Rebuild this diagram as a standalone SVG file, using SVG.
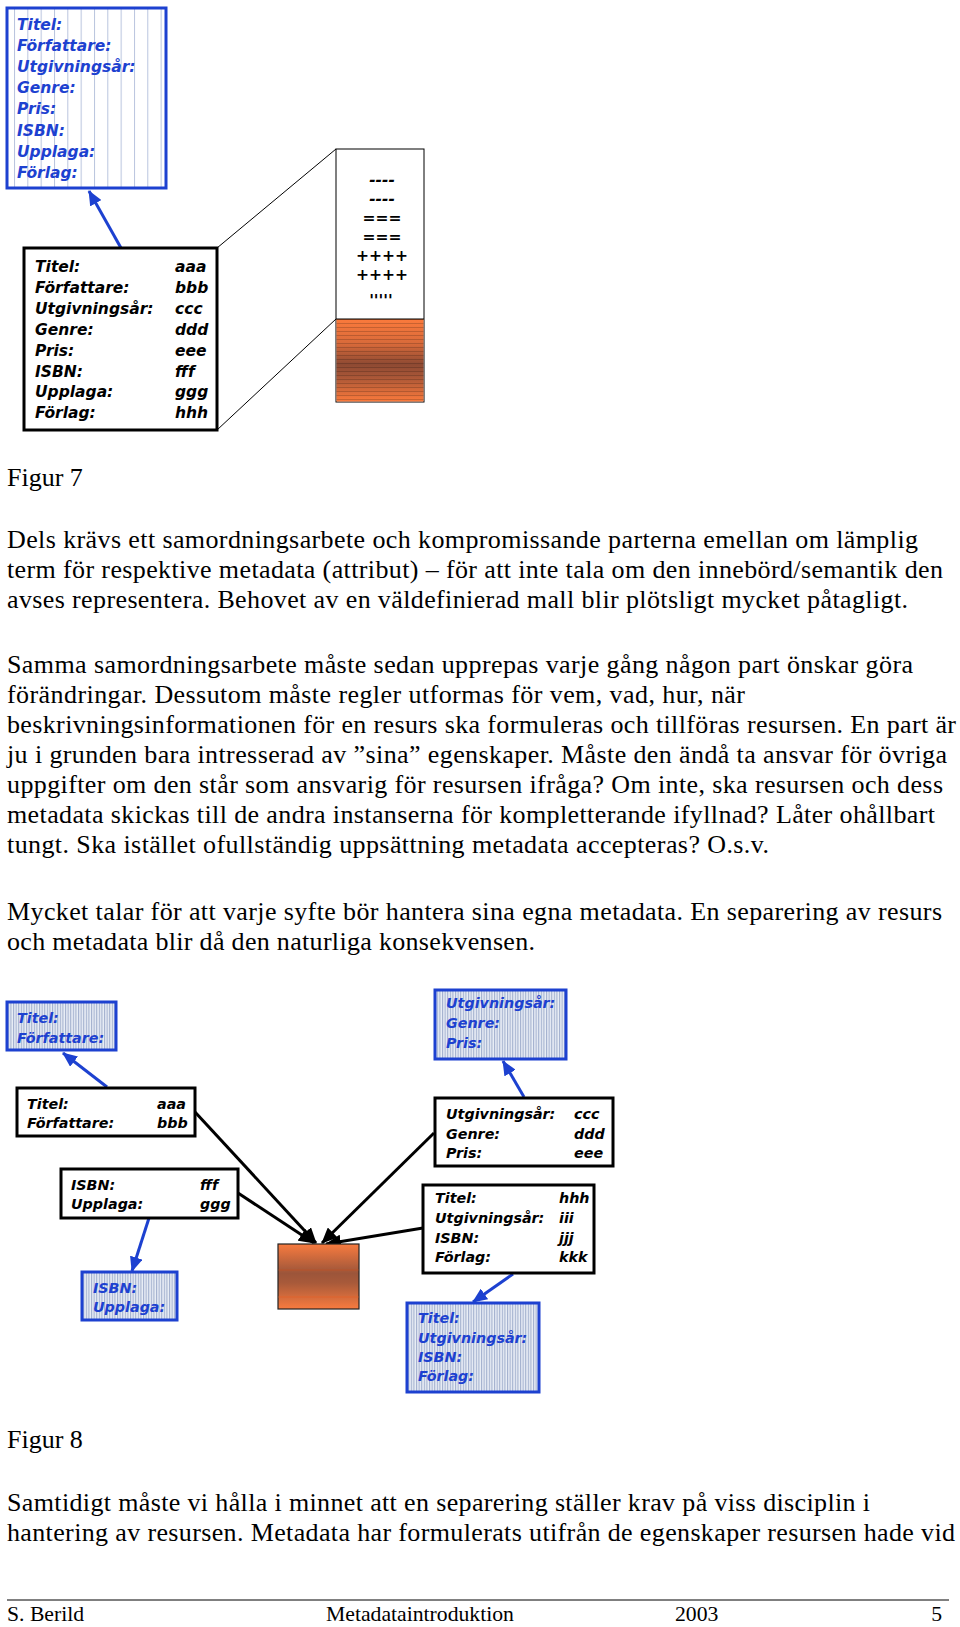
<svg xmlns="http://www.w3.org/2000/svg" width="960" height="1627" viewBox="0 0 960 1627">
<style>
.body{font-family:"Liberation Serif","Times New Roman",serif;font-size:26px;fill:#000}
.foot{font-family:"Liberation Serif","Times New Roman",serif;font-size:21.7px;fill:#000}
.d7{font-family:"DejaVu Sans",Verdana,sans-serif;font-weight:bold;font-style:italic;font-size:15.5px;fill:#000}
.d8{font-family:"DejaVu Sans",Verdana,sans-serif;font-weight:bold;font-style:italic;font-size:14.3px;fill:#000}
.blue{fill:#1d41d0}
.bbox{fill:#fff;stroke:#000;stroke-width:3}
.bluebox{stroke:#1d41d0;stroke-width:3}
.barrow{stroke:#1d41d0;stroke-width:3;fill:none;marker-end:url(#mb)}
.karrow{stroke:#000;stroke-width:3;fill:none;marker-end:url(#mk)}
.thin{stroke:#000;stroke-width:1;fill:none}
</style>
<defs>
<pattern id="vl" x="14" y="0" width="13.33" height="10" patternUnits="userSpaceOnUse">
<rect width="13.33" height="10" fill="#fff"/><rect x="0" width="1" height="10" fill="#b9c4de"/>
</pattern>
<pattern id="hatch" x="0" y="0" width="2.6" height="4" patternUnits="userSpaceOnUse">
<rect width="2.6" height="4" fill="#eaeef6"/><rect width="1.1" height="4" fill="#a2b0ce"/>
</pattern>
<linearGradient id="og7" x1="0" y1="0" x2="0" y2="1">
<stop offset="0" stop-color="#fb7a3c"/><stop offset="0.3" stop-color="#d86a3a"/><stop offset="0.55" stop-color="#8e4a33"/><stop offset="0.7" stop-color="#a85637"/><stop offset="1" stop-color="#fb7a3c"/>
</linearGradient>
<pattern id="hl" x="0" y="319" width="10" height="4" patternUnits="userSpaceOnUse">
<rect y="0" width="10" height="1" fill="#000" fill-opacity="0.18"/>
</pattern>
<linearGradient id="og8" x1="0" y1="0" x2="0" y2="1">
<stop offset="0" stop-color="#f87b3f"/><stop offset="0.45" stop-color="#9c553a"/><stop offset="0.6" stop-color="#a85a3a"/><stop offset="1" stop-color="#f87b3f"/>
</linearGradient>
<marker id="mb" markerWidth="15" markerHeight="13" refX="14" refY="6.5" orient="auto" markerUnits="userSpaceOnUse">
<path d="M0,0 L15,6.5 L0,13 z" fill="#1d41d0"/>
</marker>
<marker id="mk" markerWidth="16" markerHeight="14" refX="15" refY="7" orient="auto" markerUnits="userSpaceOnUse">
<path d="M0,0 L16,7 L0,14 z" fill="#000"/>
</marker>
</defs>

<g id="connectors">
<line class="barrow" x1="121" y1="248" x2="89" y2="191"/>
<line class="thin" x1="217" y1="248" x2="336" y2="149"/>
<line class="thin" x1="217" y1="430" x2="336" y2="319"/>
<line class="barrow" x1="107" y1="1087" x2="63" y2="1053"/>
<line class="barrow" x1="149" y1="1218" x2="132" y2="1271"/>
<line class="barrow" x1="524" y1="1097" x2="503" y2="1061"/>
<line class="barrow" x1="513" y1="1274" x2="473" y2="1302"/>
<line class="karrow" x1="195" y1="1112" x2="316" y2="1243"/>
<line class="karrow" x1="238" y1="1193" x2="314" y2="1243"/>
<line class="karrow" x1="434" y1="1133" x2="322" y2="1243"/>
<line class="karrow" x1="423" y1="1228" x2="326" y2="1244"/>
</g>

<g id="f7-schema">
<rect class="bluebox" x="7" y="8" width="159" height="180" fill="url(#vl)"/>
<text class="d7 blue" x="17" y="30">Titel:</text>
<text class="d7 blue" x="17" y="51.1">Författare:</text>
<text class="d7 blue" x="17" y="72.2">Utgivningsår:</text>
<text class="d7 blue" x="17" y="93.3">Genre:</text>
<text class="d7 blue" x="17" y="114.4">Pris:</text>
<text class="d7 blue" x="17" y="135.5">ISBN:</text>
<text class="d7 blue" x="17" y="156.6">Upplaga:</text>
<text class="d7 blue" x="17" y="177.7">Förlag:</text>
</g>

<g id="f7-record">
<rect class="bbox" x="24" y="248" width="193" height="182"/>
<text class="d7" x="35" y="272">Titel:</text><text class="d7" x="175" y="272">aaa</text>
<text class="d7" x="35" y="292.9">Författare:</text><text class="d7" x="175" y="292.9">bbb</text>
<text class="d7" x="35" y="313.8">Utgivningsår:</text><text class="d7" x="175" y="313.8">ccc</text>
<text class="d7" x="35" y="334.7">Genre:</text><text class="d7" x="175" y="334.7">ddd</text>
<text class="d7" x="35" y="355.6">Pris:</text><text class="d7" x="175" y="355.6">eee</text>
<text class="d7" x="35" y="376.5">ISBN:</text><text class="d7" x="175" y="376.5">fff</text>
<text class="d7" x="35" y="397.4">Upplaga:</text><text class="d7" x="175" y="397.4">ggg</text>
<text class="d7" x="35" y="418.3">Förlag:</text><text class="d7" x="175" y="418.3">hhh</text>
</g>

<g id="f7-resource">
<rect x="336" y="149" width="88" height="253" fill="#fff" stroke="#000" stroke-width="1"/>
<rect x="336.5" y="319" width="87" height="82.5" fill="url(#og7)"/>
<rect x="336.5" y="319" width="87" height="82.5" fill="url(#hl)"/>
<line class="thin" x1="336" y1="319" x2="424" y2="319"/>
<text class="d7" x="382" y="184.5" text-anchor="middle">----</text>
<text class="d7" x="382" y="203.5" text-anchor="middle">----</text>
<text class="d7" x="382" y="223" text-anchor="middle">===</text>
<text class="d7" x="382" y="242" text-anchor="middle">===</text>
<text class="d7" x="382" y="261" text-anchor="middle">++++</text>
<text class="d7" x="382" y="279.5" text-anchor="middle">++++</text>
<text class="d7" x="381" y="306" text-anchor="middle">'''''</text>
</g>

<g id="text1">
<text class="body" x="7" y="486">Figur 7</text>
<text class="body" x="7" y="548" textLength="911" lengthAdjust="spacing">Dels krävs ett samordningsarbete och kompromissande parterna emellan om lämplig</text>
<text class="body" x="7" y="578" textLength="936" lengthAdjust="spacing">term för respektive metadata (attribut) – för att inte tala om den innebörd/semantik den</text>
<text class="body" x="7" y="608" textLength="901" lengthAdjust="spacing">avses representera. Behovet av en väldefinierad mall blir plötsligt mycket påtagligt.</text>
<text class="body" x="7" y="673" textLength="906" lengthAdjust="spacing">Samma samordningsarbete måste sedan upprepas varje gång någon part önskar göra</text>
<text class="body" x="7" y="703" textLength="738" lengthAdjust="spacing">förändringar. Dessutom måste regler utformas för vem, vad, hur, när</text>
<text class="body" x="7" y="733" textLength="949" lengthAdjust="spacing">beskrivningsinformationen för en resurs ska formuleras och tillföras resursen. En part är</text>
<text class="body" x="7" y="763" textLength="940" lengthAdjust="spacing">ju i grunden bara intresserad av ”sina” egenskaper. Måste den ändå ta ansvar för övriga</text>
<text class="body" x="7" y="793" textLength="936" lengthAdjust="spacing">uppgifter om den står som ansvarig för resursen ifråga? Om inte, ska resursen och dess</text>
<text class="body" x="7" y="823" textLength="928" lengthAdjust="spacing">metadata skickas till de andra instanserna för kompletterande ifyllnad? Låter ohållbart</text>
<text class="body" x="7" y="853" textLength="762" lengthAdjust="spacing">tungt. Ska istället ofullständig uppsättning metadata accepteras? O.s.v.</text>
<text class="body" x="7" y="920" textLength="935" lengthAdjust="spacing">Mycket talar för att varje syfte bör hantera sina egna metadata. En separering av resurs</text>
<text class="body" x="7" y="950" textLength="528" lengthAdjust="spacing">och metadata blir då den naturliga konsekvensen.</text>
</g>

<g id="f8-schema-titel">
<rect class="bluebox" x="7" y="1002" width="109" height="48" fill="url(#hatch)"/>
<text class="d8 blue" x="17" y="1023">Titel:</text>
<text class="d8 blue" x="17" y="1043">Författare:</text>
</g>
<g id="f8-record-titel">
<rect class="bbox" x="17" y="1088" width="178" height="48" stroke-width="2.5"/>
<text class="d8" x="27" y="1109">Titel:</text><text class="d8" x="157" y="1109">aaa</text>
<text class="d8" x="27" y="1128">Författare:</text><text class="d8" x="157" y="1128">bbb</text>
</g>
<g id="f8-record-isbn">
<rect class="bbox" x="61" y="1169" width="177" height="49" stroke-width="2.5"/>
<text class="d8" x="71" y="1190">ISBN:</text><text class="d8" x="200" y="1190">fff</text>
<text class="d8" x="71" y="1209">Upplaga:</text><text class="d8" x="200" y="1209">ggg</text>
</g>
<g id="f8-schema-isbn">
<rect class="bluebox" x="82" y="1272" width="95" height="48" fill="url(#hatch)"/>
<text class="d8 blue" x="93" y="1293">ISBN:</text>
<text class="d8 blue" x="93" y="1312">Upplaga:</text>
</g>
<g id="f8-resource">
<rect x="278" y="1244" width="81" height="65" fill="url(#og8)" stroke="#222" stroke-width="1.2"/>
<line x1="278.6" y1="1270" x2="358.4" y2="1270" stroke="#b8532a" stroke-width="1"/>
<line x1="278.6" y1="1297" x2="358.4" y2="1297" stroke="#e0622c" stroke-width="1"/>
</g>
<g id="f8-schema-utg">
<rect class="bluebox" x="435" y="990" width="131" height="69" fill="url(#hatch)"/>
<text class="d8 blue" x="446" y="1008">Utgivningsår:</text>
<text class="d8 blue" x="446" y="1028">Genre:</text>
<text class="d8 blue" x="446" y="1048">Pris:</text>
</g>
<g id="f8-record-utg">
<rect class="bbox" x="435" y="1098" width="178" height="68" stroke-width="2.5"/>
<text class="d8" x="446" y="1119">Utgivningsår:</text><text class="d8" x="574" y="1119">ccc</text>
<text class="d8" x="446" y="1139">Genre:</text><text class="d8" x="574" y="1139">ddd</text>
<text class="d8" x="446" y="1158">Pris:</text><text class="d8" x="574" y="1158">eee</text>
</g>
<g id="f8-record-forlag">
<rect class="bbox" x="423" y="1185" width="171" height="88" stroke-width="2.5"/>
<text class="d8" x="435" y="1203">Titel:</text><text class="d8" x="559" y="1203">hhh</text>
<text class="d8" x="435" y="1223">Utgivningsår:</text><text class="d8" x="559" y="1223">iii</text>
<text class="d8" x="435" y="1243">ISBN:</text><text class="d8" x="559" y="1243">jjj</text>
<text class="d8" x="435" y="1262">Förlag:</text><text class="d8" x="559" y="1262">kkk</text>
</g>
<g id="f8-schema-forlag">
<rect class="bluebox" x="407" y="1303" width="132" height="89" fill="url(#hatch)"/>
<text class="d8 blue" x="418" y="1323">Titel:</text>
<text class="d8 blue" x="418" y="1343">Utgivningsår:</text>
<text class="d8 blue" x="418" y="1362">ISBN:</text>
<text class="d8 blue" x="418" y="1381">Förlag:</text>
</g>

<g id="text2">
<text class="body" x="7" y="1448">Figur 8</text>
<text class="body" x="7" y="1511" textLength="863" lengthAdjust="spacing">Samtidigt måste vi hålla i minnet att en separering ställer krav på viss disciplin i</text>
<text class="body" x="7" y="1541" textLength="948" lengthAdjust="spacing">hantering av resursen. Metadata har formulerats utifrån de egenskaper resursen hade vid</text>
</g>

<g id="footer">
<line x1="7" y1="1600" x2="949" y2="1600" stroke="#000" stroke-width="1"/>
<text class="foot" x="7" y="1621">S. Berild</text>
<text class="foot" x="326" y="1621">Metadataintroduktion</text>
<text class="foot" x="675" y="1621">2003</text>
<text class="foot" x="942" y="1621" text-anchor="end">5</text>
</g>
</svg>
